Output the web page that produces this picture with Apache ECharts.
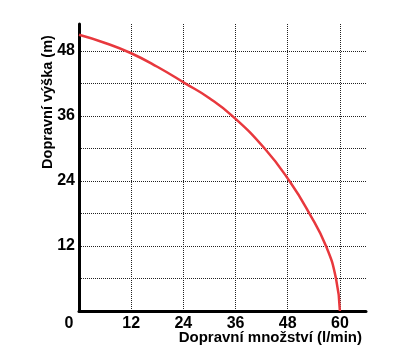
<!DOCTYPE html>
<html>
<head>
<meta charset="utf-8">
<script src="https://cdn.jsdelivr.net/npm/echarts@6/dist/echarts.min.js"></script>
<style>
  html, body { margin: 0; padding: 0; background: #fff; }
  #chart { width: 410px; height: 353px; }
</style>
</head>
<body>
<div id="chart"></div>
<script>
// pump curve: flow (l/min) vs head (m)
var flow = [0, 6, 12, 18, 24.5, 30, 35.3, 42.7, 48.4, 53, 56.8, 59.1, 60];
var head = [51, 49.5, 47.6, 45.1, 42, 39.3, 36, 30, 24, 18, 12, 6, 0];
var xTicks = [0, 12, 24, 36, 48, 60];
var yTicks = [12, 24, 36, 48];

(function(){
    var myChart = echarts.init(document.getElementById('chart'));
    var curve = [];
    for (var i = 0; i < flow.length; i++) {
        curve.push([flow[i], head[i]]);
    }
    var font = 'Arial, "Liberation Sans", sans-serif';

    var option = {
        animation: false,
        grid: { left: 79, top: 24, right: 44, bottom: 42 },
        xAxis: {
            type: 'value',
            min: 0, max: 66, interval: 12,
            axisLine: { lineStyle: { color: '#000', width: 3 } },
            axisTick: { show: false },
            axisLabel: {
                margin: 5,
                color: '#000',
                fontFamily: font,
                fontWeight: 'bold',
                fontSize: 16,
                formatter: function (v) {
                    if (v === 0) return '{z|0}';
                    return xTicks.indexOf(v) >= 0 ? String(v) : '';
                },
                rich: { z: { padding: [0, 20, 0, 0], fontFamily: font, fontWeight: 'bold', fontSize: 16, color: '#000' } }
            },
            splitLine: {
                show: true, showMinLine: false, showMaxLine: false,
                lineStyle: { color: '#222', type: 'dotted', width: 1 }
            }
        },
        yAxis: {
            type: 'value',
            min: 0, max: 53, interval: 6,
            axisLine: { show: true, lineStyle: { color: '#000', width: 3 } },
            axisTick: { show: false },
            axisLabel: {
                margin: 4,
                color: '#000',
                fontFamily: font,
                fontWeight: 'bold',
                fontSize: 16,
                formatter: function (v) {
                    return yTicks.indexOf(v) >= 0 ? String(v) : '';
                }
            },
            splitLine: {
                show: true, showMinLine: false, showMaxLine: false,
                lineStyle: { color: '#222', type: 'dotted', width: 1 }
            }
        },
        graphic: [
            {
                type: 'text',
                x: 48, y: 102,
                rotation: Math.PI / 2,
                style: {
                    text: 'Dopravní výška (m)',
                    fill: '#000',
                    font: 'bold 14.5px ' + font,
                    align: 'center',
                    verticalAlign: 'middle'
                }
            },
            {
                type: 'text',
                x: 362, y: 338,
                style: {
                    text: 'Dopravní množství (l/min)',
                    fill: '#000',
                    font: 'bold 15px ' + font,
                    align: 'right',
                    verticalAlign: 'middle'
                }
            }
        ],
        series: [{
            type: 'line',
            data: curve,
            smooth: 0.5,
            showSymbol: false,
            lineStyle: { color: '#e8383d', width: 2.5 }
        }]
    };
    myChart.setOption(option);
})();
</script>
</body>
</html>
